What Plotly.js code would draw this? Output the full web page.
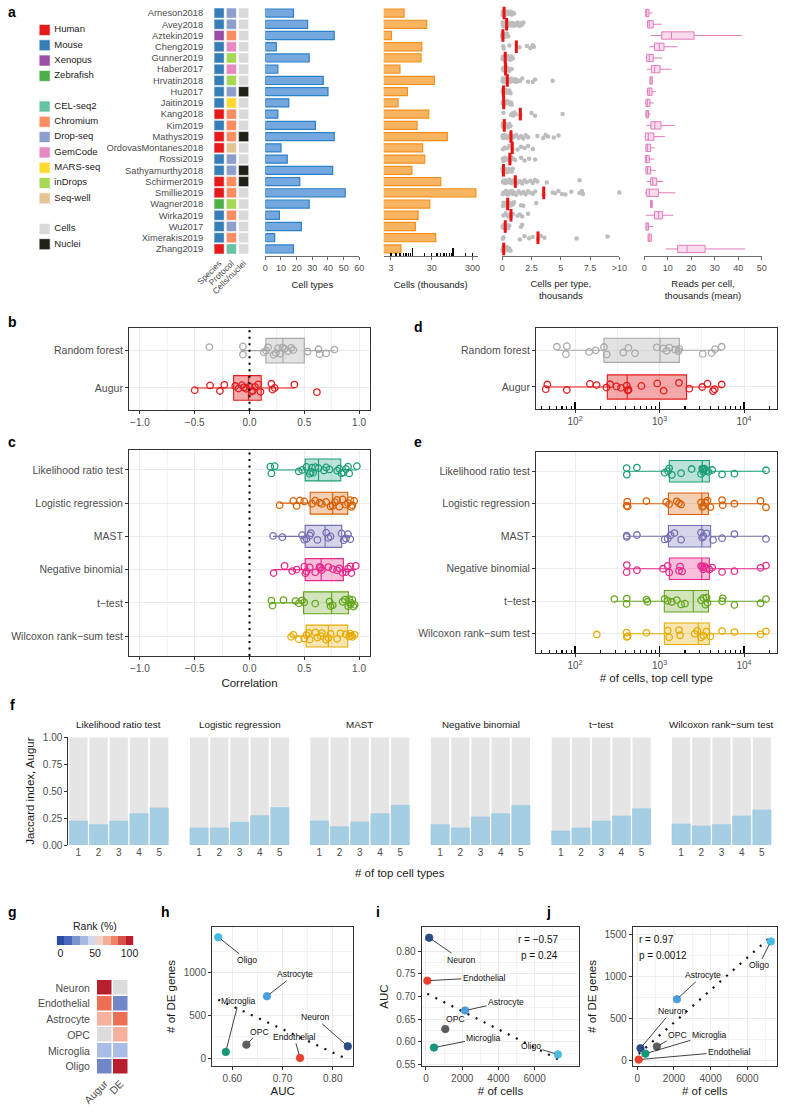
<!DOCTYPE html>
<html><head><meta charset="utf-8">
<script src="https://cdn.plot.ly/plotly-3.0.1.min.js"></script>
<style>html,body{margin:0;padding:0;background:#fff}#chart{width:800px;height:1116px}</style>
</head><body><div id="chart"></div>
<script>
// ================= DATA =================
// Panel a
const datasets = ['Arneson2018','Avey2018','Aztekin2019','Cheng2019','Gunner2019','Haber2017','Hrvatin2018','Hu2017','Jaitin2019','Kang2018','Kim2019','Mathys2019','OrdovasMontanes2018','Rossi2019','Sathyamurthy2018','Schirmer2019','Smillie2019','Wagner2018','Wirka2019','Wu2017','Ximerakis2019','Zhang2019'];
const species = ['Mouse','Mouse','Xenopus','Mouse','Mouse','Mouse','Mouse','Mouse','Mouse','Human','Mouse','Human','Human','Mouse','Mouse','Human','Human','Zebrafish','Mouse','Mouse','Mouse','Human'];
const protocol = ['Drop-seq','Drop-seq','Chromium','GemCode','inDrops','GemCode','inDrops','Drop-seq','MARS-seq','Chromium','Chromium','Chromium','Seq-well','Drop-seq','Drop-seq','Chromium','Chromium','inDrops','Chromium','Drop-seq','Chromium','CEL-seq2'];
const material = ['Cells','Cells','Cells','Cells','Cells','Cells','Cells','Nuclei','Cells','Cells','Cells','Nuclei','Cells','Cells','Nuclei','Nuclei','Cells','Cells','Cells','Cells','Cells','Cells'];
const tileColumns = ['Species','Protocol','Cells/nuclei'];
const cellTypeCounts = [18,27,44,7,28,8,37,40,15,8,32,44,10,14,43,22,51,28,9,23,6,18];
const cellsThousands = [6.3,22.6,3.1,17.1,16.4,5.0,34.7,7.6,4.5,25.3,13.1,72,18,20.2,9.8,49.8,361,26.8,13.9,11.9,37.6,5.3];
const cellsPerType = [
 [0.02,0.05,0.08,0.1,0.12,0.14,0.15,0.16,0.2,0.25,0.3,0.4,0.5,0.6,0.7,0.8,0.9,1.0],
 [0.03,0.06,0.1,0.15,0.2,0.25,0.3,0.33,0.37,0.4,0.45,0.5,0.55,0.6,0.7,0.8,0.9,1.0,1.1,1.2,1.3,1.4,1.5,1.6,1.7,1.8,0.35],
 [0.01,0.02,0.02,0.03,0.03,0.04,0.05,0.05,0.06,0.07,0.08,0.09,0.1,0.12,0.15,0.2,0.25,0.3,0.4,0.5],
 [0.08,0.12,0.6,1.45,2.1,2.4,2.6,2.7],
 [0.02,0.05,0.08,0.1,0.15,0.2,0.25,0.3,0.35,0.4,0.45,0.5,0.6,0.7,0.8,0.9],
 [0.05,0.1,0.15,0.25,0.3,0.45,0.6,0.8],
 [0.02,0.05,0.1,0.15,0.2,0.25,0.3,0.35,0.4,0.45,0.5,0.55,0.6,0.7,0.8,0.9,1.0,1.1,1.2,1.3,1.5,1.7,2.2,2.6,2.8,4.3],
 [0.02,0.04,0.06,0.08,0.1,0.12,0.15,0.2,0.3,0.4,0.5,0.6,0.7],
 [0.03,0.06,0.1,0.12,0.15,0.2,0.3,0.45,0.6,0.75,0.8],
 [0.1,0.75,0.85,0.95,1.05,1.15,1.54,2.5,2.8,5.15],
 [0.02,0.05,0.08,0.1,0.15,0.2,0.25,0.3,0.4,0.5,0.6,0.7],
 [0.02,0.05,0.1,0.15,0.2,0.3,0.4,0.5,0.6,0.7,0.75,0.8,0.9,1.0,1.2,1.4,1.6,1.8,2.0,2.2,3.0,3.5,3.7,3.9,4.4,4.8],
 [0.05,0.2,0.4,0.6,0.85,1.3,1.6,1.9,2.2,2.6],
 [0.05,0.1,0.2,0.3,0.5,0.65,0.8,0.95,1.1,1.6,1.9,2.3,2.8],
 [0.02,0.04,0.06,0.08,0.1,0.15,0.2,0.3,0.4,0.5,0.6,0.7,0.8,0.9],
 [0.05,0.1,0.2,0.3,0.4,0.5,0.6,0.7,0.8,0.9,1.0,1.11,1.3,1.5,1.7,1.9,2.1,2.4,2.6,2.8,3.0,3.8,6.6],
 [0.05,0.1,0.2,0.3,0.4,0.5,0.6,0.7,0.8,0.9,1.0,1.2,1.4,1.6,1.8,2.0,2.2,2.4,2.6,2.8,3.54,4.3,4.5,4.8,5.1,5.4,5.9,6.6,6.8,6.9,10.5],
 [0.05,0.1,0.15,0.2,0.3,0.4,0.46,0.5,0.6,0.7,0.8,0.9,1.0,1.6,1.8,2.9],
 [0.1,0.3,0.5,0.6,0.74,0.9,1.3,1.5,1.7,2.2],
 [0.02,0.05,0.1,0.15,0.2,0.25,0.3,0.4,0.5,0.6,1.6,1.7],
 [0.05,0.1,1.5,1.9,2.3,2.6,3.05,3.3,3.6,6.35,9.0],
 [0.02,0.05,0.08,0.1,0.12,0.15,0.2,0.3,0.4,0.5,0.6,0.7]
];
const medianCellsPerType = [0.15,0.37,0.05,1.2,0.25,0.28,0.43,0.1,0.12,1.54,0.17,0.74,0.85,0.65,0.1,1.11,3.54,0.46,0.74,0.25,3.05,0.12];
const readsLow = [0.6,1.4,2.7,2.1,0.6,1.1,2.4,0.85,0.4,0.4,0.85,0.0,0.4,0.3,0.4,1.0,0.3,2.7,0.6,0.6,1.6,9.2];
const readsQ1  = [0.6,1.4,7.4,4.3,1.0,3.0,2.4,1.4,0.7,0.7,2.8,0.4,0.7,0.4,0.7,2.7,0.85,2.7,4.3,0.7,1.6,14.2];
const readsMed = [1.0,2.1,11.6,6.4,2.1,4.4,2.8,2.1,1.3,1.1,4.5,1.7,1.3,1.0,1.4,3.6,2.1,3.0,6.1,1.1,2.1,18.2];
const readsQ3  = [2.0,3.8,21.2,8.4,3.8,6.7,3.4,3.3,2.4,1.8,7.1,4.1,2.6,2.1,2.7,5.3,6.0,3.4,7.8,1.8,3.0,25.9];
const readsHigh= [3.4,7.4,41.5,14.2,7.7,11.6,3.4,4.8,4.1,2.8,13.1,8.8,4.4,4.3,4.8,8.1,13.2,3.4,12.4,3.6,3.0,42.9];
const legendLabels = ['Human','Mouse','Xenopus','Zebrafish',null,'CEL-seq2','Chromium','Drop-seq','GemCode','MARS-seq','inDrops','Seq-well',null,'Cells','Nuclei'];

// Panels b / d (classifiers)
const classifiers = ['Random forest','Augur'];
const corrPoints = [
 [-0.366,-0.06,-0.06,0.13,0.15,0.17,0.22,0.24,0.26,0.28,0.3,0.32,0.35,0.38,0.4,0.53,0.63,0.64,0.7,0.775],
 [-0.5,-0.36,-0.27,-0.23,-0.13,-0.1,-0.07,-0.05,-0.03,0.0,0.02,0.03,0.05,0.08,0.1,0.2,0.21,0.23,0.41,0.615]
];
const corrStats = { lo:[-0.08,-0.5], q1:[0.15,-0.145], med:[0.305,-0.01], q3:[0.50,0.107], hi:[0.775,0.41] };
const cellsPoints = [
 [61,78,80,147,176,220,237,372,428,513,927,1110,1217,1310,1528,1675,1715,3240,4140,4540,5440],
 [45,47,80,150,180,235,260,310,350,410,420,430,610,940,1120,1700,2250,3200,3700,4300,4500,5440]
];
const cellsStats = { lo:[61,45], q1:[220,241], med:[1015,414], q3:[1715,2090], hi:[5440,5440] };

// Panels c / e (DE methods)
const deMethods = ['Likelihood ratio test','Logistic regression','MAST','Negative binomial','t\u2212test','Wilcoxon rank\u2212sum test'];
const deCorrPoints = [
 [0.19,0.2,0.23,0.45,0.48,0.52,0.55,0.56,0.57,0.58,0.6,0.63,0.68,0.7,0.73,0.8,0.82,0.84,0.86,0.88,0.9,0.91,0.98],
 [0.275,0.4,0.43,0.46,0.5,0.57,0.6,0.64,0.66,0.7,0.74,0.76,0.78,0.8,0.82,0.85,0.88,0.9,0.92,0.93,0.94,0.955],
 [0.215,0.3,0.48,0.5,0.52,0.55,0.56,0.62,0.7,0.72,0.74,0.84,0.86,0.88,0.9,0.92],
 [0.22,0.32,0.39,0.43,0.5,0.51,0.52,0.55,0.6,0.64,0.65,0.66,0.72,0.76,0.8,0.82,0.85,0.88,0.9,0.92,0.93,0.97],
 [0.2,0.21,0.31,0.42,0.45,0.48,0.5,0.6,0.73,0.74,0.76,0.85,0.87,0.9,0.91,0.92,0.93,0.94,0.95,0.96],
 [0.38,0.4,0.45,0.5,0.52,0.54,0.55,0.6,0.62,0.65,0.66,0.7,0.72,0.74,0.8,0.83,0.88,0.91,0.92,0.93,0.94,0.96]
];
const deCorrStats = { lo:[0.19,0.275,0.215,0.22,0.2,0.38], q1:[0.508,0.554,0.508,0.508,0.493,0.517], med:[0.63,0.76,0.69,0.654,0.75,0.72], q3:[0.833,0.897,0.842,0.857,0.903,0.897], hi:[0.98,0.955,0.92,0.97,0.96,0.96] };
const deCellsPoints = [
 [408,410,540,1150,1260,1300,1400,1800,2400,3100,3200,3250,3300,3400,3600,3800,4200,5500,7700,18200],
 [408,415,420,700,1200,1300,1600,1700,1800,3100,3200,3300,3500,3700,4000,5500,5600,7700,15700,18200],
 [408,410,540,1150,1250,1350,1500,1800,3100,3200,3300,3600,4300,5500,7700,18200],
 [408,410,540,1100,1250,1300,1700,1750,1850,3100,3200,3300,3400,3600,3900,4200,5500,7700,15700,18200],
 [292,408,410,700,720,1150,1250,1400,1600,1800,2000,3100,3300,3500,3600,3700,5500,5600,7700,15700,18200],
 [181,408,410,420,700,1250,1300,1700,1750,2600,2800,3100,3300,3600,4000,5500,7700,15700,18200]
];
const deCellsStats = { lo:[408,408,408,408,292,408], q1:[1306,1275,1275,1306,1140,1140], med:[3210,3170,3170,3170,2510,2880], q3:[3890,3800,4030,3890,3800,3890], hi:[18200,18200,18200,18200,18200,18200] };

// Panel f
const topN = [1,2,3,4,5];
const jaccardCeiling = [1,1,1,1,1];
const jaccard = [
 [0.222,0.189,0.222,0.291,0.344],
 [0.158,0.158,0.211,0.272,0.347],
 [0.223,0.170,0.214,0.291,0.368],
 [0.189,0.158,0.260,0.291,0.368],
 [0.130,0.158,0.222,0.269,0.337],
 [0.195,0.176,0.189,0.269,0.325]
];

// Panels g-j
const brainTypes = ['Neuron','Endothelial','Astrocyte','OPC','Microglia','Oligo'];
const brainAUC = [0.830,0.735,0.669,0.628,0.587,0.572];
const brainDE = [140,5,725,160,75,1415];
const brainCells = [175,75,2160,1065,440,7280];
const rankLegendLevels = [0,11.1,22.2,33.3,44.4,55.6,66.7,77.8,88.9,100];
const corrTextI = ['r = \u22120.57','p = 0.24'];
const corrTextJ = ['r = 0.97','p = 0.0012'];

// ================= STYLE =================
const FONT = 'Liberation Sans, Arial, Helvetica, sans-serif';
const W = 800, H = 1116;
const X = (a,b) => [a/W, b/W];
const Y = (t,b) => [1-b/H, 1-t/H];
const palette = {Human:'#e41a1c', Mouse:'#377eb8', Xenopus:'#984ea3', Zebrafish:'#4daf4a',
 'CEL-seq2':'#66c2a5', Chromium:'#fc8d62', 'Drop-seq':'#8da0cb', GemCode:'#e78ac3', 'MARS-seq':'#ffd92f', inDrops:'#a6d854', 'Seq-well':'#e5c494',
 Cells:'#d9d9d9', Nuclei:'#1f2317'};
const deColors = ['#1b9e77','#d95f02','#7570b3','#e7298a','#66a61e','#e6ab02'];
const clsColors = ['#a9a9a9','#e41a1c'];
const clsFill = ['rgba(190,190,190,0.45)','rgba(228,26,28,0.38)'];
const brainColors = ['#2b4a86','#e8412b','#4c9ddc','#5c5c5c','#17977a','#47bbe0'];
const rankLegendColors = ['#2d4aa4','#4a68bb','#7b93cf','#a6b9e2','#cfd8ee','#efd3c9','#f5ad96','#ee8468','#d9524a','#b71f2e'];
const jitterPattern = [0.13,-0.08,0.02,-0.14,0.09,-0.03,0.15,-0.11,0.05,-0.06,0.11,-0.13,0.0,0.07,-0.1,0.12,-0.02,0.04,-0.15,0.1];
const rgba = (hex,a) => { const n=parseInt(hex.slice(1),16); return `rgba(${n>>16},${(n>>8)&255},${n&255},${a})`; };

const data = [], ann = [], shapes = [];
const layout = {width:W, height:H, margin:{l:0,r:0,t:0,b:0}, showlegend:false,
  paper_bgcolor:'#fff', plot_bgcolor:'rgba(0,0,0,0)', barmode:'overlay', boxmode:'overlay',
  font:{family:FONT, size:10, color:'#4d4d4d'}};
const TICKF = (s,c) => ({family:FONT, size:s||10, color:c||'#4d4d4d'});
const TITLEF = (s) => ({family:FONT, size:s||11, color:'#1a1a1a'});
function ax(o){ return Object.assign({showgrid:false, zeroline:false, showline:false, ticks:'', tickfont:TICKF(), fixedrange:true, automargin:false}, o); }

// ================= PANEL a =================
const idx = datasets.map((d,i)=>i);
layout.yaxis = ax({domain:Y(6.3,255.7), range:[21.6,-0.6], anchor:'x', tickmode:'array', tickvals:idx, ticktext:datasets,
  ticks:'outside', ticklen:7, tickcolor:'rgba(0,0,0,0)', tickfont:TICKF(9.3)});
layout.xaxis = ax({domain:X(213,249.75), range:[-0.5,2.5], anchor:'y', tickmode:'array', tickvals:[0,1,2], ticktext:tileColumns, tickangle:-45, tickfont:TICKF(8.5)});
[species, protocol, material].forEach((col,c) => {
  data.push({type:'scatter', mode:'markers', xaxis:'x', yaxis:'y', x:idx.map(()=>c), y:idx,
    marker:{symbol:'square', size:10, color:col.map(v=>palette[v]), line:{width:0.6, color:'rgba(255,255,255,0.7)'}}, cliponaxis:false, hoverinfo:'skip'});
});
const aAxis = (dom, extra) => ax(Object.assign({domain:dom, anchor:'y', showline:true, linecolor:'#6b6b6b', linewidth:1,
  ticks:'outside', ticklen:3, tickcolor:'#6b6b6b', tickfont:TICKF(9)}, extra));
layout.xaxis2 = aAxis(X(265.3,359.3), {range:[0,60], dtick:10, title:{text:'Cell types', font:TITLEF(9.5), standoff:9}});
layout.xaxis3 = aAxis(X(383.7,477.7), {type:'log', range:[Math.log10(2), Math.log10(400)], tickmode:'array', tickvals:[3,30,300], ticktext:['3','30','300'],
  title:{text:'Cells (thousands)', font:TITLEF(9.5), standoff:9}});
layout.xaxis4 = ax({overlaying:'x3', anchor:'y', type:'log', range:[Math.log10(2), Math.log10(400)], tickmode:'array', tickvals:[10,100],
  ticks:'inside', ticklen:8, tickwidth:1.3, tickcolor:'#000', showticklabels:false,
  minor:{tickmode:'array', tickvals:[2,3,4,5,6,7,8,9,20,30,40,50,60,70,80,90,200,300], ticks:'inside', ticklen:3, tickwidth:1.3, tickcolor:'#000'}});
layout.xaxis5 = aAxis(X(502.3,619.3), {range:[0,10], tickmode:'array', tickvals:[0,2.5,5,7.5,10], ticktext:['0','2.5','5','7.5','>10'],
  title:{text:'Cells per type,<br>thousands', font:TITLEF(9.5), standoff:8}});
layout.xaxis6 = aAxis(X(644.3,761.7), {range:[0,50], dtick:10, title:{text:'Reads per cell,<br>thousands (mean)', font:TITLEF(9.5), standoff:8}});

data.push({type:'bar', orientation:'h', xaxis:'x2', yaxis:'y', x:cellTypeCounts, y:idx, width:0.72,
  marker:{color:'#74a8de', line:{color:'#2c80c8', width:1.2}}, hoverinfo:'skip'});
data.push({type:'bar', orientation:'h', xaxis:'x3', yaxis:'y', x:cellsThousands, y:idx, width:0.72,
  marker:{color:'#f9b462', line:{color:'#f2901c', width:1.2}}, hoverinfo:'skip'});
data.push({type:'scatter', mode:'markers', xaxis:'x4', yaxis:'y', x:[], y:[], hoverinfo:'skip'});
const cptX = [], cptY = [];
let k = 0;
cellsPerType.forEach((arr,i) => arr.forEach(v => { cptX.push(Math.min(v,10)); cptY.push(i + jitterPattern[k++ % jitterPattern.length]*1.1); }));
data.push({type:'scatter', mode:'markers', xaxis:'x5', yaxis:'y', x:cptX, y:cptY, cliponaxis:false,
  marker:{size:4.5, color:'#bdbdbd'}, hoverinfo:'skip'});
data.push({type:'scatter', mode:'markers', xaxis:'x5', yaxis:'y', x:medianCellsPerType, y:idx, cliponaxis:false,
  marker:{symbol:'line-ns', size:9, color:'#ee1111', line:{width:3, color:'#ee1111'}}, hoverinfo:'skip'});
data.push({type:'box', orientation:'h', xaxis:'x6', yaxis:'y', y:idx, q1:readsQ1, median:readsMed, q3:readsQ3, lowerfence:readsLow, upperfence:readsHigh,
  width:0.65, whiskerwidth:0, line:{color:'#e07cbb', width:1}, fillcolor:'rgba(231,138,195,0.3)', boxpoints:false, hoverinfo:'skip'});

layout.xaxis7 = ax({domain:X(39,200), range:[0,1], anchor:'y7', showticklabels:false});
layout.yaxis7 = ax({domain:Y(22.35,251.85), range:[14.5,-0.5], anchor:'x7', showticklabels:false});
const legY = [], legC = [], legT = [];
legendLabels.forEach((l,i) => { if (l) { legY.push(i); legC.push(palette[l]); legT.push(l); } });
data.push({type:'scatter', mode:'markers', xaxis:'x7', yaxis:'y7', x:legY.map(()=>0.035), y:legY,
  marker:{symbol:'square', size:11, color:legC, line:{width:0.8, color:'rgba(255,255,255,0.8)'}}, hoverinfo:'skip'});
data.push({type:'scatter', mode:'text', xaxis:'x7', yaxis:'y7', x:legY.map(()=>0.095), y:legY, text:legT, textposition:'middle right',
  textfont:{family:FONT, size:9.5, color:'#1a1a1a'}, hoverinfo:'skip'});

// ================= PANELS b-e =================
function frameAxis(extra){ return ax(Object.assign({showline:true, mirror:true, linecolor:'#333', linewidth:1, ticks:'outside', ticklen:3, tickcolor:'#333',
  showgrid:true, gridcolor:'#ebebeb', gridwidth:1, tickfont:TICKF(10)}, extra)); }
function boxGroup(xa, ya, pos, stats, i, pts, color, fill, jscale){
  data.push({type:'box', orientation:'h', xaxis:xa, yaxis:ya, y:[pos], q1:[stats.q1[i]], median:[stats.med[i]], q3:[stats.q3[i]],
    lowerfence:[stats.lo[i]], upperfence:[stats.hi[i]], width:0.66, whiskerwidth:0, line:{color:color, width:1.1}, fillcolor:fill, boxpoints:false, hoverinfo:'skip'});
  data.push({type:'scatter', mode:'markers', xaxis:xa, yaxis:ya, x:pts, y:pts.map((v,j)=>pos + jitterPattern[(j*3+i) % jitterPattern.length]*jscale),
    marker:{symbol:'circle-open', size:6.5, color:color, line:{width:1.3}}, cliponaxis:false, hoverinfo:'skip'});
}
const corrAxisX = {range:[-1.1,1.1], dtick:0.5, tick0:0, tickformat:'.1f', minor:{dtick:0.25, tick0:0, showgrid:true, gridcolor:'#f2f2f2'}};
layout.xaxis8 = frameAxis(Object.assign({domain:X(129,370), anchor:'y8'}, corrAxisX));
layout.yaxis8 = frameAxis({domain:Y(328.3,410.3), anchor:'x8', range:[-0.6,1.6], tickmode:'array', tickvals:[1,0], ticktext:classifiers, tickfont:TICKF(10.5)});
classifiers.forEach((c,i) => boxGroup('x8','y8', 1-i, corrStats, i, corrPoints[i], clsColors[i], clsFill[i], 0.75));
layout.xaxis9 = frameAxis(Object.assign({domain:X(129,370), anchor:'y9', title:{text:'Correlation', font:TITLEF(11.5), standoff:5}}, corrAxisX));
layout.yaxis9 = frameAxis({domain:Y(450,656), anchor:'x9', range:[-0.6,5.6], tickmode:'array', tickvals:deMethods.map((m,i)=>5-i), ticktext:deMethods, tickfont:TICKF(10.5)});
deMethods.forEach((m,i) => boxGroup('x9','y9', 5-i, deCorrStats, i, deCorrPoints[i], deColors[i], rgba(deColors[i],0.3), 0.75));
[['x8','y8'],['x9','y9']].forEach(([xa,ya]) => shapes.push({type:'line', xref:xa, yref:ya+' domain', x0:0, x1:0, y0:0, y1:1, line:{color:'#000', width:2, dash:'2px,4.5px'}}));

const logRange = [1.538, 4.387];
const logMain = {type:'log', range:logRange, tickmode:'array', tickvals:[100,1000,10000], ticktext:['10<sup>2</sup>','10<sup>3</sup>','10<sup>4</sup>'],
  minor:{tickmode:'array', tickvals:[31.6,316,3162], showgrid:true, gridcolor:'#f2f2f2', ticks:''}};
const logTicksOverlay = (over, anchor) => ax({overlaying:over, anchor:anchor, type:'log', range:logRange, tickmode:'array', tickvals:[100,1000,10000],
  ticks:'inside', ticklen:7, tickwidth:1.2, tickcolor:'#000', showticklabels:false,
  minor:{tickmode:'array', tickvals:[40,50,60,70,80,90,200,300,400,500,600,700,800,900,2000,3000,4000,5000,6000,7000,8000,9000,20000], ticks:'inside', ticklen:3, tickwidth:1.1, tickcolor:'#000'}});
layout.xaxis10 = frameAxis(Object.assign({domain:X(536,776.7), anchor:'y10'}, logMain));
layout.xaxis11 = logTicksOverlay('x10','y10');
layout.yaxis10 = frameAxis({domain:Y(328.3,409), anchor:'x10', range:[-0.6,1.6], tickmode:'array', tickvals:[1,0], ticktext:classifiers, tickfont:TICKF(10.5)});
classifiers.forEach((c,i) => boxGroup('x10','y10', 1-i, cellsStats, i, cellsPoints[i], clsColors[i], clsFill[i], 0.75));
data.push({type:'scatter', mode:'markers', xaxis:'x11', yaxis:'y10', x:[], y:[], hoverinfo:'skip'});
layout.xaxis12 = frameAxis(Object.assign({domain:X(536,776.7), anchor:'y12', title:{text:'# of cells, top cell type', font:TITLEF(11.5), standoff:3}}, logMain));
layout.xaxis13 = logTicksOverlay('x12','y12');
layout.yaxis12 = frameAxis({domain:Y(451.7,653.3), anchor:'x12', range:[-0.6,5.6], tickmode:'array', tickvals:deMethods.map((m,i)=>5-i), ticktext:deMethods, tickfont:TICKF(10.5)});
deMethods.forEach((m,i) => boxGroup('x12','y12', 5-i, deCellsStats, i, deCellsPoints[i], deColors[i], rgba(deColors[i],0.3), 0.75));
data.push({type:'scatter', mode:'markers', xaxis:'x13', yaxis:'y12', x:[], y:[], hoverinfo:'skip'});

// ================= PANEL f =================
const facetLeft = [68.3,189,309.3,430,550.7,671];
layout.yaxis14 = ax({domain:Y(737.3,845), range:[0,1], anchor:'x14', tickmode:'array', tickvals:[0,0.25,0.5,0.75,1], tickformat:'.2f',
  showline:true, linecolor:'#333', ticks:'outside', ticklen:3, tickcolor:'#333', tickfont:TICKF(10),
  title:{text:'Jaccard index, Augur', font:TITLEF(11.5), standoff:5}});
deMethods.forEach((m,i) => {
  const n = 14+i, xa = 'x'+n;
  layout['xaxis'+n] = ax({domain:X(facetLeft[i], facetLeft[i]+101), range:[0.5,5.5], anchor:'y14', tickmode:'array', tickvals:topN, tickfont:TICKF(10)});
  data.push({type:'bar', xaxis:xa, yaxis:'y14', x:topN, y:jaccardCeiling, width:0.9, marker:{color:'#e5e5e5'}, hoverinfo:'skip'});
  data.push({type:'bar', xaxis:xa, yaxis:'y14', x:topN, y:jaccard[i], width:0.9, marker:{color:'#a6cee3', line:{color:'#9bc7e0', width:0.6}}, hoverinfo:'skip'});
  ann.push({xref:'paper', yref:'paper', x:(facetLeft[i]+50.5)/W, y:1-724/H, text:m, showarrow:false, font:{family:FONT, size:9.8, color:'#1a1a1a'}, xanchor:'center', yanchor:'middle'});
});
ann.push({xref:'paper', yref:'paper', x:400/W, y:1-873/H, text:'# of top cell types', showarrow:false, font:TITLEF(11.5), xanchor:'center', yanchor:'middle'});

// ================= PANEL g =================
const rankPct = arr => arr.map(v => arr.filter(w => w <= v).length / arr.length * 100);
const augRank = rankPct(brainAUC), deRank = rankPct(brainDE);
const heatScale = [[0,'#2d4aa4'],[1/6,'#7088c8'],[2/6,'#aabde6'],[0.5,'#dcdcdc'],[4/6,'#f5b19c'],[5/6,'#ea6f55'],[1,'#b81f2e']];
layout.xaxis20 = ax({domain:X(56.7,133.3), range:[-5.56,105.56], anchor:'y20', tickmode:'array', tickvals:[0,50,100], tickfont:TICKF(10.5,'#1a1a1a')});
layout.yaxis20 = ax({domain:Y(936,945), range:[-0.5,0.5], anchor:'x20', showticklabels:false});
const discScale = [];
rankLegendColors.forEach((c,i) => { discScale.push([i/10, c]); discScale.push([(i+1)/10, c]); });
data.push({type:'heatmap', xaxis:'x20', yaxis:'y20', x:rankLegendLevels, y:[0], z:[rankLegendLevels], zmin:-5.56, zmax:105.56, colorscale:discScale, showscale:false, hoverinfo:'skip'});
ann.push({xref:'paper', yref:'paper', x:95/W, y:1-926/H, text:'Rank (%)', showarrow:false, xanchor:'center', yanchor:'middle', font:{family:FONT, size:10.5, color:'#1a1a1a'}});
layout.xaxis21 = ax({domain:X(97,128.5), range:[-0.5,1.5], anchor:'y21', tickmode:'array', tickvals:[0,1], ticktext:['Augur','DE'], tickangle:-45, tickfont:TICKF(10.5)});
layout.yaxis21 = ax({domain:Y(980,1074.6), range:[5.5,-0.5], anchor:'x21', tickmode:'array', tickvals:brainTypes.map((b,i)=>i), ticktext:brainTypes,
  ticks:'outside', ticklen:4, tickcolor:'rgba(0,0,0,0)', tickfont:TICKF(10.5)});
data.push({type:'heatmap', xaxis:'x21', yaxis:'y21', x:[0,1], y:brainTypes.map((b,i)=>i), z:brainTypes.map((b,i)=>[augRank[i], deRank[i]]),
  zmin:0, zmax:100, colorscale:heatScale, showscale:false, xgap:1.5, ygap:1.5, hoverinfo:'skip'});

// ================= PANELS h-j =================
function fitLine(xs, ys){
  const n = xs.length, mx = xs.reduce((a,b)=>a+b)/n, my = ys.reduce((a,b)=>a+b)/n;
  let sxy=0, sxx=0; xs.forEach((x,i)=>{ sxy+=(x-mx)*(ys[i]-my); sxx+=(x-mx)*(x-mx); });
  const b = sxy/sxx, a = my - b*mx, x0 = Math.min(...xs), x1 = Math.max(...xs);
  return {x:[x0,x1], y:[a+b*x0, a+b*x1]};
}
function scatterPanel(n, xs, ys, offsets){
  const xa = 'x'+n, ya = 'y'+n;
  const f = fitLine(xs, ys);
  data.push({type:'scatter', mode:'lines', xaxis:xa, yaxis:ya, x:f.x, y:f.y, line:{color:'#111', width:2.2, dash:'2px,7px'}, hoverinfo:'skip'});
  data.push({type:'scatter', mode:'markers', xaxis:xa, yaxis:ya, x:xs, y:ys, cliponaxis:false,
    marker:{size:7.5, color:brainColors, line:{width:0.8, color:brainColors}}, hoverinfo:'skip'});
  brainTypes.forEach((b,i) => {
    const [dx,dy] = offsets[i];
    const far = Math.hypot(dx,dy) > 16;
    const a = {xref:xa, yref:ya, x:xs[i], y:ys[i], text:b, xanchor:'center', yanchor:'middle', font:{family:FONT, size:8.6, color:'#111'}, bgcolor:'rgba(0,0,0,0)'};
    if (far) Object.assign(a, {showarrow:true, arrowhead:0, arrowwidth:0.8, arrowcolor:'#111', ax:dx, ay:dy, standoff:3.5});
    else Object.assign(a, {showarrow:false, xshift:dx, yshift:-dy});
    ann.push(a);
  });
}
const sFrame = (extra) => frameAxis(Object.assign({tickfont:TICKF(10)}, extra));
layout.xaxis22 = sFrame({domain:X(212,353.3), anchor:'y22', range:[0.5596,0.841], tickmode:'array', tickvals:[0.6,0.7,0.8], tickformat:'.2f',
  minor:{tickmode:'array', tickvals:[0.65,0.75], showgrid:true, gridcolor:'#f2f2f2'}, title:{text:'AUC', font:TITLEF(11.5), standoff:4}});
layout.yaxis22 = sFrame({domain:Y(927.3,1065.7), anchor:'x22', range:[-86,1530], tickmode:'array', tickvals:[0,500,1000],
  minor:{tickmode:'array', tickvals:[250,750,1250], showgrid:true, gridcolor:'#f2f2f2'}, title:{text:'# of DE genes', font:TITLEF(11.5), standoff:5}});
scatterPanel(22, brainAUC, brainDE, [[-33,-29],[-6,-21],[28,-22],[13,-13],[13,-51],[29,23]]);
layout.xaxis23 = sFrame({domain:X(421.7,579.3), anchor:'y23', range:[-237,8463], tickmode:'array', tickvals:[0,2000,4000,6000],
  minor:{tickmode:'array', tickvals:[1000,3000,5000,7000], showgrid:true, gridcolor:'#f2f2f2'}, title:{text:'# of cells', font:TITLEF(11.5), standoff:4}});
layout.yaxis23 = sFrame({domain:Y(927.3,1065.7), anchor:'x23', range:[0.547,0.853], tickmode:'array', tickvals:[0.55,0.6,0.65,0.7,0.75,0.8], tickformat:'.2f',
  minor:{tickmode:'array', tickvals:[0.575,0.625,0.675,0.725,0.775,0.825], showgrid:true, gridcolor:'#f2f2f2'}, title:{text:'AUC', font:TITLEF(11.5), standoff:5}});
scatterPanel(23, brainCells, brainAUC, [[32,22],[57,-3],[41,-9],[10,-10],[50,-10],[-27,-8]]);
ann.push({xref:'x23 domain', yref:'y23 domain', x:0.877, y:0.913, text:corrTextI[0], showarrow:false, xanchor:'right', yanchor:'middle', font:{family:FONT, size:10, color:'#111'}});
ann.push({xref:'x23 domain', yref:'y23 domain', x:0.877, y:0.795, text:corrTextI[1], showarrow:false, xanchor:'right', yanchor:'middle', font:{family:FONT, size:10, color:'#111'}});
layout.xaxis24 = sFrame({domain:X(632.7,776.7), anchor:'y24', range:[-251,7602], tickmode:'array', tickvals:[0,2000,4000,6000],
  minor:{tickmode:'array', tickvals:[1000,3000,5000,7000], showgrid:true, gridcolor:'#f2f2f2'}, title:{text:'# of cells', font:TITLEF(11.5), standoff:4}});
layout.yaxis24 = sFrame({domain:Y(927.3,1065.7), anchor:'x24', range:[-68,1583], tickmode:'array', tickvals:[0,500,1000,1500],
  minor:{tickmode:'array', tickvals:[250,750,1250], showgrid:true, gridcolor:'#f2f2f2'}, title:{text:'# of DE genes', font:TITLEF(11.5), standoff:5}});
scatterPanel(24, brainCells, brainDE, [[31,-37],[91,-8],[26,-24],[21,-12],[64,-19],[-12,24]]);
ann.push({xref:'x24 domain', yref:'y24 domain', x:0.03, y:0.913, text:corrTextJ[0], showarrow:false, xanchor:'left', yanchor:'middle', font:{family:FONT, size:10, color:'#111'}});
ann.push({xref:'x24 domain', yref:'y24 domain', x:0.03, y:0.795, text:corrTextJ[1], showarrow:false, xanchor:'left', yanchor:'middle', font:{family:FONT, size:10, color:'#111'}});

[['a',12,12],['b',12,322],['c',12,442],['d',418,327],['e',418,442],['f',12,705],['g',12,912],['h',165,912],['i',378,912],['j',548,912]].forEach(([t,x,y]) =>
  ann.push({xref:'paper', yref:'paper', x:x/W, y:1-y/H, text:'<b>'+t+'</b>', showarrow:false, font:{family:FONT, size:14, color:'#000'}, xanchor:'center', yanchor:'middle'}));

layout.annotations = ann;
layout.shapes = shapes;
Plotly.newPlot('chart', data, layout, {staticPlot:true});
</script></body></html>
